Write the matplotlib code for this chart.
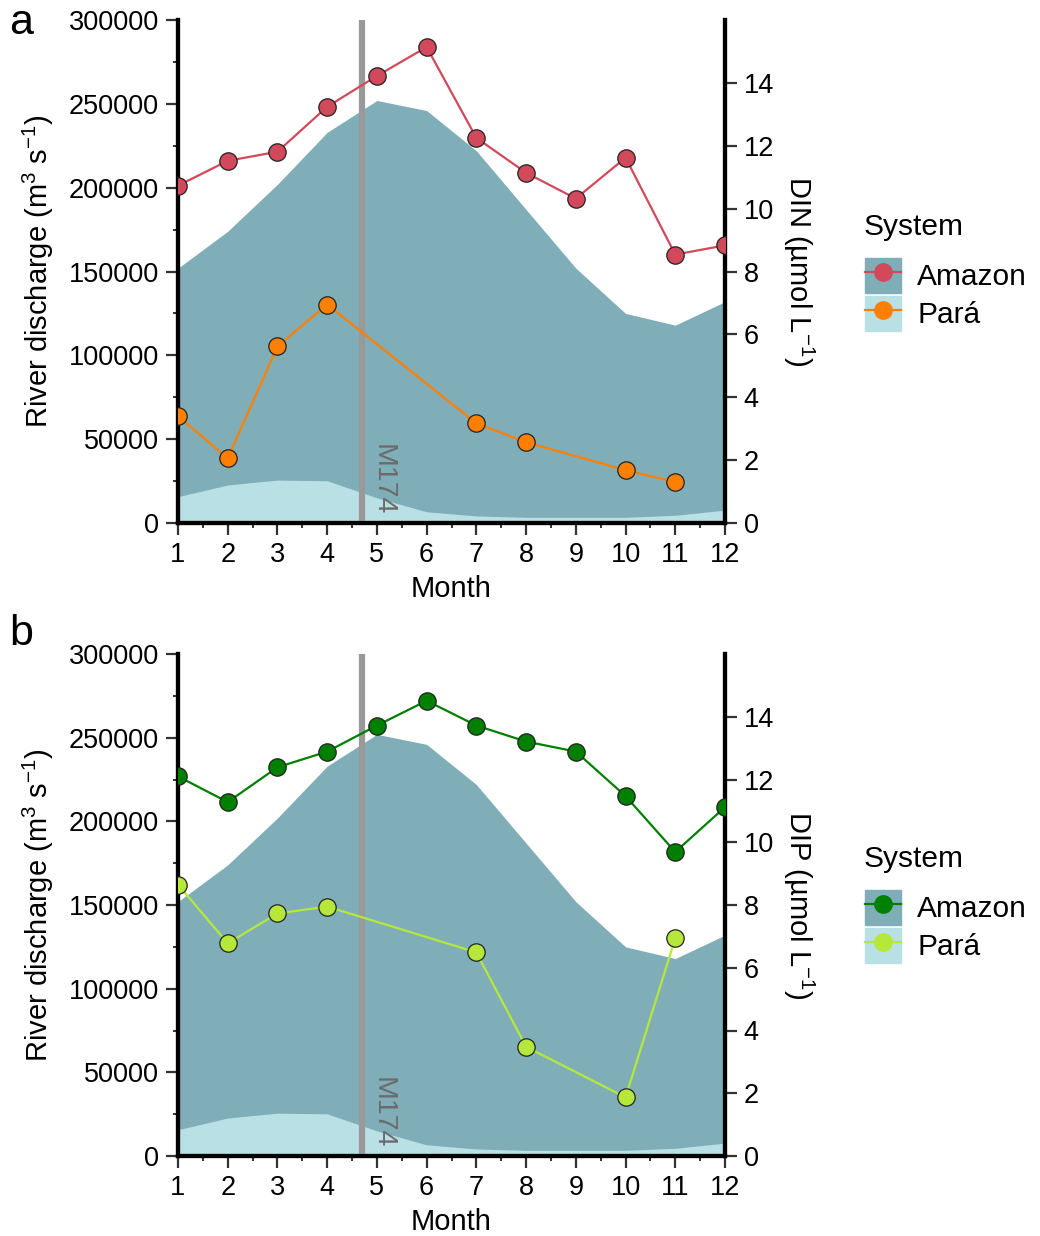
import matplotlib
matplotlib.use('Agg')
import matplotlib.pyplot as plt
import matplotlib.ticker as mticker
import matplotlib.transforms as mtransforms
from matplotlib.patches import Patch
from matplotlib.lines import Line2D
from matplotlib.legend_handler import HandlerTuple

plt.rcParams['font.family'] = ['Liberation Sans', 'DejaVu Sans']
plt.rcParams['mathtext.fontset'] = 'custom'
plt.rcParams['mathtext.rm'] = 'Liberation Sans'
plt.rcParams['mathtext.it'] = 'Liberation Sans:italic'

# Monthly river discharge (m3 s-1)
months = [1, 2, 3, 4, 5, 6, 7, 8, 9, 10, 11, 12]
amazon_q = [152000, 174000, 202000, 233000, 252000, 246000, 222000, 187000, 152000, 125000, 118000, 132000]
para_q = [15700, 22700, 25600, 25200, 15000, 6700, 4200, 3400, 3400, 3400, 4600, 7700]

# DIN (umol L-1)
din_amazon = [10.73, 11.52, 11.81, 13.24, 14.22, 15.14, 12.25, 11.14, 10.32, 11.62, 8.54, 8.83]
din_para_months = [1, 2, 3, 4, 7, 8, 10, 11]
din_para = [3.40, 2.06, 5.62, 6.95, 3.17, 2.57, 1.68, 1.30]

# DIP (umol L-1)
dip_amazon = [12.10, 11.28, 12.39, 12.89, 13.72, 14.51, 13.72, 13.21, 12.89, 11.47, 9.69, 11.12]
dip_para_months = [1, 2, 3, 4, 7, 8, 10, 11]
dip_para = [8.65, 6.78, 7.73, 7.95, 6.49, 3.48, 1.87, 6.94]

cruise_month = 4.7
cruise_label = 'M174'
systems = ['Amazon', 'Pará']

col_amazon_area = '#7FAEB8'
col_para_area = '#B9E0E4'

fig = plt.figure(figsize=(10.4, 12.36), dpi=100)


def panel(rect, letter, letter_y, nut_name, amazon_vals, para_m, para_vals, c_am, c_pa, leg_top):
    ax = fig.add_axes(rect)
    ax.fill_between(months, 0, amazon_q, color=col_amazon_area, lw=0, zorder=1)
    ax.fill_between(months, 0, para_q, color=col_para_area, lw=0, zorder=2)
    ax.axvline(cruise_month, color='#999999', lw=4.5, zorder=3)
    trans = mtransforms.offset_copy(ax.transData, fig=fig, x=5.5, y=0, units='points')
    ax.text(cruise_month, 4800, cruise_label, transform=trans, rotation=270,
            rotation_mode='anchor', ha='right', va='bottom', fontsize=20.5,
            color='#6b6b6b', zorder=4)
    ax.set_xlim(1, 12)
    ax.set_ylim(0, 300000)
    ax.set_xticks(months)
    ax.xaxis.set_minor_locator(mticker.MultipleLocator(0.5))
    ax.yaxis.set_major_locator(mticker.MultipleLocator(50000))
    ax.yaxis.set_minor_locator(mticker.MultipleLocator(25000))
    ax.set_xlabel('Month', fontsize=21, labelpad=5)
    ax.set_ylabel('River discharge (m$^{3}$ s$^{-1}$)', fontsize=21, labelpad=9)
    ax.spines['top'].set_visible(False)
    for s in ['left', 'bottom', 'right']:
        ax.spines[s].set_linewidth(3)
    ax.tick_params(which='major', length=8.5, width=1.6, color='#333333',
                   labelsize=19.5, pad=5)
    ax.tick_params(which='minor', length=3.5, width=1.4, color='#333333')

    ax2 = ax.twinx()
    ax2.plot(months, amazon_vals, color=c_am, lw=1.6, marker='o', ms=12.5,
             mec='#222222', mew=0.9, zorder=5)
    ax2.plot(para_m, para_vals, color=c_pa, lw=1.6, marker='o', ms=12.5,
             mec='#222222', mew=0.9, zorder=5)
    ax2.set_ylim(0, 16)
    ax2.set_yticks([0, 2, 4, 6, 8, 10, 12, 14])
    ax2.spines['top'].set_visible(False)
    for s in ['left', 'bottom', 'right']:
        ax2.spines[s].set_linewidth(3)
    ax2.tick_params(which='major', length=8.5, width=1.6, color='#333333',
                    labelsize=19.5, pad=5)
    ax2.set_ylabel(nut_name + ' (µmol L$^{-1}$)', fontsize=21, rotation=270,
                   labelpad=30)

    fig.text(0.009, letter_y, letter, fontsize=31, va='baseline', ha='left')

    fig.text(864 / 1040, leg_top, 'System', fontsize=21.5, va='top', ha='left')
    handles = [(Patch(color=col_amazon_area),
                Line2D([], [], color=c_am, lw=1.6, marker='o', ms=12.5, mec=c_am)),
               (Patch(color=col_para_area),
                Line2D([], [], color=c_pa, lw=1.6, marker='o', ms=12.5, mec=c_pa))]
    fig.legend(handles, systems, loc='upper left',
               bbox_to_anchor=(865 / 1040, leg_top - 45 / 1236), bbox_transform=fig.transFigure,
               frameon=False, fontsize=21.5,
               borderpad=0, borderaxespad=0,
               handlelength=1.2, handleheight=1.42, handletextpad=0.55,
               labelspacing=0.1, handler_map={tuple: HandlerTuple(ndivide=1)})
    return ax, ax2


panel([178 / 1040, 1 - 523 / 1236, 547 / 1040, 503 / 1236], 'a', 1 - 34 / 1236, 'DIN',
      din_amazon, din_para_months, din_para, '#D1495B', '#FF8000', 1 - 213 / 1236)
panel([178 / 1040, 1 - 1156 / 1236, 547 / 1040, 502 / 1236], 'b', 1 - 645 / 1236, 'DIP',
      dip_amazon, dip_para_months, dip_para, '#008000', '#B5E83A', 1 - 845 / 1236)

plt.savefig('out.png', dpi=100)
